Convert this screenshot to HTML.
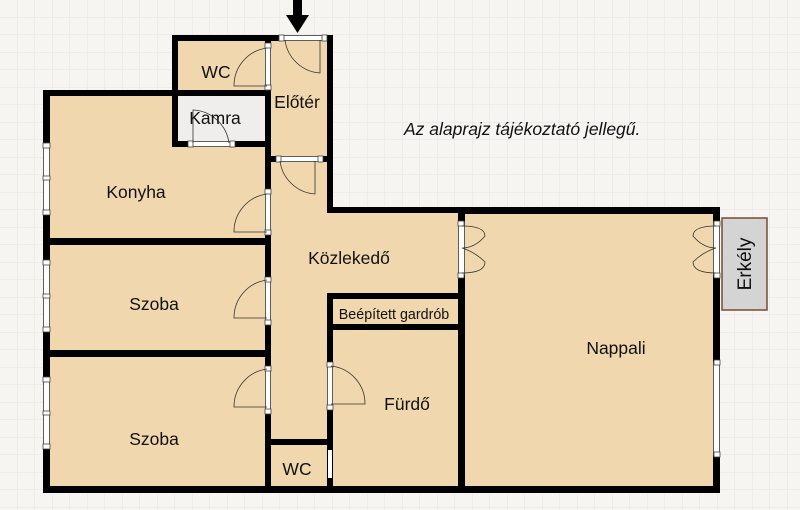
<!DOCTYPE html>
<html><head><meta charset="utf-8"><style>
html,body{margin:0;padding:0;background:#f6f5f2}
svg{display:block}
text{font-family:"Liberation Sans",sans-serif;fill:#111}
</style></head><body>
<svg width="800" height="510" viewBox="0 0 800 510" xmlns="http://www.w3.org/2000/svg">
<defs>
<pattern id="g" width="17.5" height="17.5" patternUnits="userSpaceOnUse">
<path d="M17.5 0V17.5H0" fill="none" stroke="#e4e3e0" stroke-width="1"/>
</pattern>
</defs>
<rect width="800" height="510" fill="#f6f5f2"/>
<rect width="800" height="510" fill="url(#g)"/>
<g fill="#f1d7ad">
<rect x="46" y="92" width="224" height="398"/>
<rect x="172" y="38" width="158" height="56"/>
<rect x="268" y="38" width="62" height="452"/>
<rect x="268" y="208" width="450" height="282"/>
</g>
<rect x="175" y="95" width="95" height="50" fill="#efeeec"/>
<rect x="722" y="218" width="45" height="92" fill="#d4d4d4" stroke="#7a4a30" stroke-width="1.5"/>
<text x="745" y="270" font-size="19" text-anchor="middle" transform="rotate(-90 745 264)">Erkély</text>
<g fill="#000">
<rect x="43" y="90" width="7" height="403"/>
<rect x="43" y="486" width="677" height="7"/>
<rect x="713" y="207" width="7" height="286"/>
<rect x="458" y="207" width="262" height="7"/>
<rect x="327" y="207" width="135" height="6"/>
<rect x="458" y="207" width="7" height="286"/>
<rect x="327" y="35" width="6" height="178"/>
<rect x="172" y="35" width="161" height="6"/>
<rect x="172" y="35" width="6" height="112"/>
<rect x="43" y="90" width="227" height="6"/>
<rect x="172" y="141" width="98" height="6"/>
<rect x="265" y="35" width="6" height="458"/>
<rect x="265" y="156" width="68" height="6"/>
<rect x="43" y="238" width="227" height="7"/>
<rect x="43" y="350" width="227" height="7"/>
<rect x="327" y="293" width="135" height="6"/>
<rect x="327" y="324" width="135" height="6"/>
<rect x="327" y="293" width="6" height="200"/>
<rect x="265" y="439" width="68" height="6"/>
</g>
<g fill="#fff" stroke="#555" stroke-width="0.8">
<rect x="43.5" y="145" width="6" height="68"/><rect x="43.5" y="262" width="6" height="68"/><rect x="43.5" y="378" width="6" height="69"/>
<rect x="713.5" y="362" width="6" height="93"/>
<rect x="265.5" y="45" width="5" height="43"/><rect x="265.5" y="190" width="5" height="43"/><rect x="265.5" y="278" width="5" height="44"/><rect x="265.5" y="367" width="5" height="44"/>
<rect x="327.5" y="363" width="5" height="45"/>
<rect x="458.5" y="222" width="6" height="53"/><rect x="713.5" y="222" width="6" height="53"/>
<rect x="280" y="35.5" width="45" height="5"/><rect x="277" y="156.5" width="45" height="5"/><rect x="190" y="141.5" width="42" height="5"/>
</g>
<rect x="328" y="450" width="4" height="28" fill="#fff"/>
<g fill="#fff" stroke="#444" stroke-width="0.8">
<rect x="43" y="143" width="7" height="5"/><rect x="43" y="176" width="7" height="4"/><rect x="43" y="210" width="7" height="5"/>
<rect x="43" y="260" width="7" height="5"/><rect x="43" y="294" width="7" height="4"/><rect x="43" y="327" width="7" height="5"/>
<rect x="43" y="377" width="7" height="5"/><rect x="43" y="411" width="7" height="4"/><rect x="43" y="444" width="7" height="5"/>
<rect x="714" y="360" width="6" height="5"/><rect x="714" y="452" width="6" height="5"/>
<rect x="265" y="43" width="6" height="5"/><rect x="265" y="85" width="6" height="5"/>
<rect x="265" y="189" width="6" height="5"/><rect x="265" y="230" width="6" height="5"/>
<rect x="265" y="277" width="6" height="5"/><rect x="265" y="320" width="6" height="5"/>
<rect x="265" y="366" width="6" height="5"/><rect x="265" y="409" width="6" height="5"/>
<rect x="327" y="362" width="6" height="5"/><rect x="327" y="405" width="6" height="5"/>
<rect x="458" y="221" width="6" height="5"/><rect x="458" y="273" width="6" height="5"/>
<rect x="714" y="221" width="6" height="5"/><rect x="714" y="273" width="6" height="5"/>
<rect x="279" y="35" width="5" height="6"/><rect x="322" y="35" width="5" height="6"/>
<rect x="276" y="156" width="5" height="6"/><rect x="318" y="156" width="5" height="6"/>
<rect x="188" y="141" width="5" height="6"/><rect x="230" y="141" width="5" height="6"/>
</g>
<g fill="none" stroke="#333" stroke-width="0.8">
<path d="M267 48 A38 38 0 0 0 234 86 H267"/>
<path d="M267 194 A38 38 0 0 0 234 232 H267"/>
<path d="M267 280 A38 38 0 0 0 234 318 H267"/>
<path d="M267 369 A38 38 0 0 0 234 407 H267"/>
<path d="M331 366 A38 38 0 0 1 365 404 H331"/>
<path d="M285 40 A38 38 0 0 0 320 73 V40"/>
<path d="M280 161 A38 38 0 0 0 315 194 V161"/>
<path d="M193 143 V110 A38 38 0 0 1 229 143"/>
<path d="M462 226 Q485 226 485 236 Q475 248 462 248 Q475 252 485 262 Q485 273 462 273"/>
<path d="M716 226 Q693 226 693 236 Q703 248 716 248 Q703 252 693 262 Q693 273 716 273"/>
</g>
<rect x="293" y="0" width="9" height="17" fill="#000"/>
<polygon points="286,15 309,15 297.5,33" fill="#000"/>
<g font-size="17.5" text-anchor="middle">
<text x="216" y="78">WC</text>
<text x="215" y="124">Kamra</text>
<text x="297" y="108">Előtér</text>
<text x="136" y="198">Konyha</text>
<text x="154" y="310">Szoba</text>
<text x="154" y="445">Szoba</text>
<text x="349" y="264">Közlekedő</text>
<text x="616" y="354">Nappali</text>
<text x="407" y="410">Fürdő</text>
<text x="297" y="475">WC</text>
<text x="394" y="319" font-size="14.3">Beépített gardrób</text>
</g>
<text x="404" y="135" font-size="17.5" font-style="italic">Az alaprajz tájékoztató jellegű.</text>
</svg>
</body></html>
